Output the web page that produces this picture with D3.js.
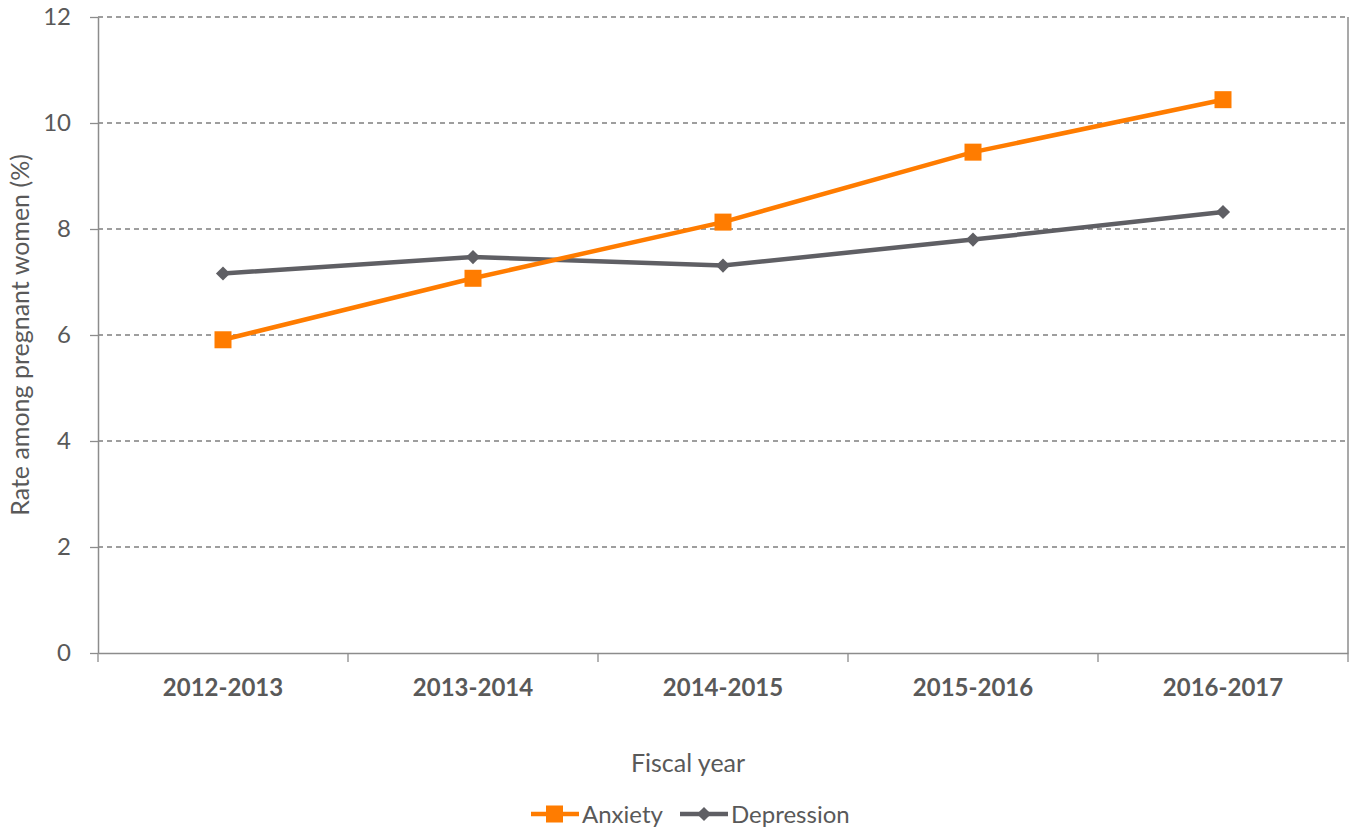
<!DOCTYPE html>
<html><head><meta charset="utf-8">
<script src="https://cdn.jsdelivr.net/npm/d3@7"></script>
<style>body{margin:0;background:#fff;} svg{display:block;font-family:Lato, "Open Sans", sans-serif;}</style>
</head><body>
<svg id="c" width="1353" height="828"></svg>
<script>
const categories = ["2012-2013","2013-2014","2014-2015","2015-2016","2016-2017"];
const anxiety = [5.91, 7.07, 8.13, 9.45, 10.44];
const depression = [7.16, 7.47, 7.31, 7.80, 8.32];
const yTicks = [0,2,4,6,8,10,12];
const seriesNames = ["Anxiety","Depression"];

const svg = d3.select("#c");
const L = 98, R = 1348, T = 17, B = 653;
const x = d3.scaleBand().domain(categories).range([L, R]);
const y = d3.scaleLinear().domain([0, 12]).range([B, T]);
const textCol = "#595959", axisCol = "#8c8c8c";

// gridlines
svg.append("g").selectAll("line").data(yTicks.filter(d => d > 0)).join("line")
  .attr("x1", L).attr("x2", R).attr("y1", d => y(d)).attr("y2", d => y(d))
  .attr("stroke", "#7f7f7f").attr("stroke-width", 1.3).attr("stroke-dasharray", "5,4");
// right border
svg.append("line").attr("x1", R).attr("x2", R).attr("y1", T).attr("y2", B)
  .attr("stroke", axisCol).attr("stroke-width", 1.5);

// y axis
const yAxis = d3.axisLeft(y).tickValues(yTicks).tickSize(8).tickPadding(19).tickSizeOuter(0);
const gy = svg.append("g").attr("transform", `translate(${L},0)`).call(yAxis);
gy.select(".domain").attr("stroke", axisCol).attr("stroke-width", 1.5);
gy.selectAll(".tick line").attr("stroke", axisCol).attr("stroke-width", 1.3);
gy.selectAll(".tick text").attr("fill", textCol).style("font-size", "24px").style("font-family", "Lato, sans-serif");

// x axis
const xAxis = d3.axisBottom(x).tickSize(0).tickPadding(26).tickSizeOuter(0);
const gx = svg.append("g").attr("transform", `translate(0,${B})`).call(xAxis);
gx.select(".domain").attr("stroke", axisCol).attr("stroke-width", 1.5);
gx.selectAll(".tick text").attr("fill", textCol).style("font-size", "24px").style("font-weight", "bold").style("font-family", "Lato, sans-serif");
// boundary ticks
const bounds = categories.map(c => x(c)).concat([R]);
svg.append("g").selectAll("line").data(bounds).join("line")
  .attr("x1", d => d).attr("x2", d => d).attr("y1", B).attr("y2", B + 9)
  .attr("stroke", axisCol).attr("stroke-width", 1.3);

const cx = c => x(c) + x.bandwidth() / 2;
const line = d3.line().x((d, i) => cx(categories[i])).y(d => y(d));

const orange = "#ff7c00", grey = "#5f5f64";
svg.append("path").datum(depression).attr("d", line).attr("fill", "none").attr("stroke", grey).attr("stroke-width", 4.5);
svg.append("path").datum(anxiety).attr("d", line).attr("fill", "none").attr("stroke", orange).attr("stroke-width", 4.5);

svg.append("g").selectAll("path").data(depression).join("path")
  .attr("d", d3.symbol().type(d3.symbolSquare).size(100)).attr("fill", grey)
  .attr("transform", (d, i) => `translate(${cx(categories[i])},${y(d)}) rotate(45)`);
svg.append("g").selectAll("rect").data(anxiety).join("rect")
  .attr("x", (d, i) => cx(categories[i]) - 8.5).attr("y", d => y(d) - 8.5)
  .attr("width", 17).attr("height", 17).attr("fill", orange);

// axis titles
svg.append("text").attr("transform", `translate(29,${(T + B) / 2}) rotate(-90)`)
  .attr("text-anchor", "middle").attr("fill", textCol).style("font-size", "25px").text("Rate among pregnant women (%)");
svg.append("text").attr("x", 688).attr("y", 772).attr("text-anchor", "middle")
  .attr("fill", textCol).style("font-size", "25px").text("Fiscal year");

// legend
const lg = svg.append("g");
const lx = [531, 680];
[anxiety, depression].forEach((s, k) => {
  const col = k === 0 ? orange : grey;
  const g = lg.append("g").attr("transform", `translate(${lx[k]},814)`);
  g.append("line").attr("x1", 0).attr("x2", 48).attr("y1", 0).attr("y2", 0).attr("stroke", col).attr("stroke-width", 4.5);
  if (k === 0) g.append("rect").attr("x", 15).attr("y", -8.5).attr("width", 17).attr("height", 17).attr("fill", col);
  else g.append("path").attr("d", d3.symbol().type(d3.symbolSquare).size(100)).attr("fill", col).attr("transform", "translate(24,0) rotate(45)");
  g.append("text").attr("x", 51).attr("y", 9).attr("fill", textCol).style("font-size", "24px").text(seriesNames[k]);
});
</script>
</body></html>
